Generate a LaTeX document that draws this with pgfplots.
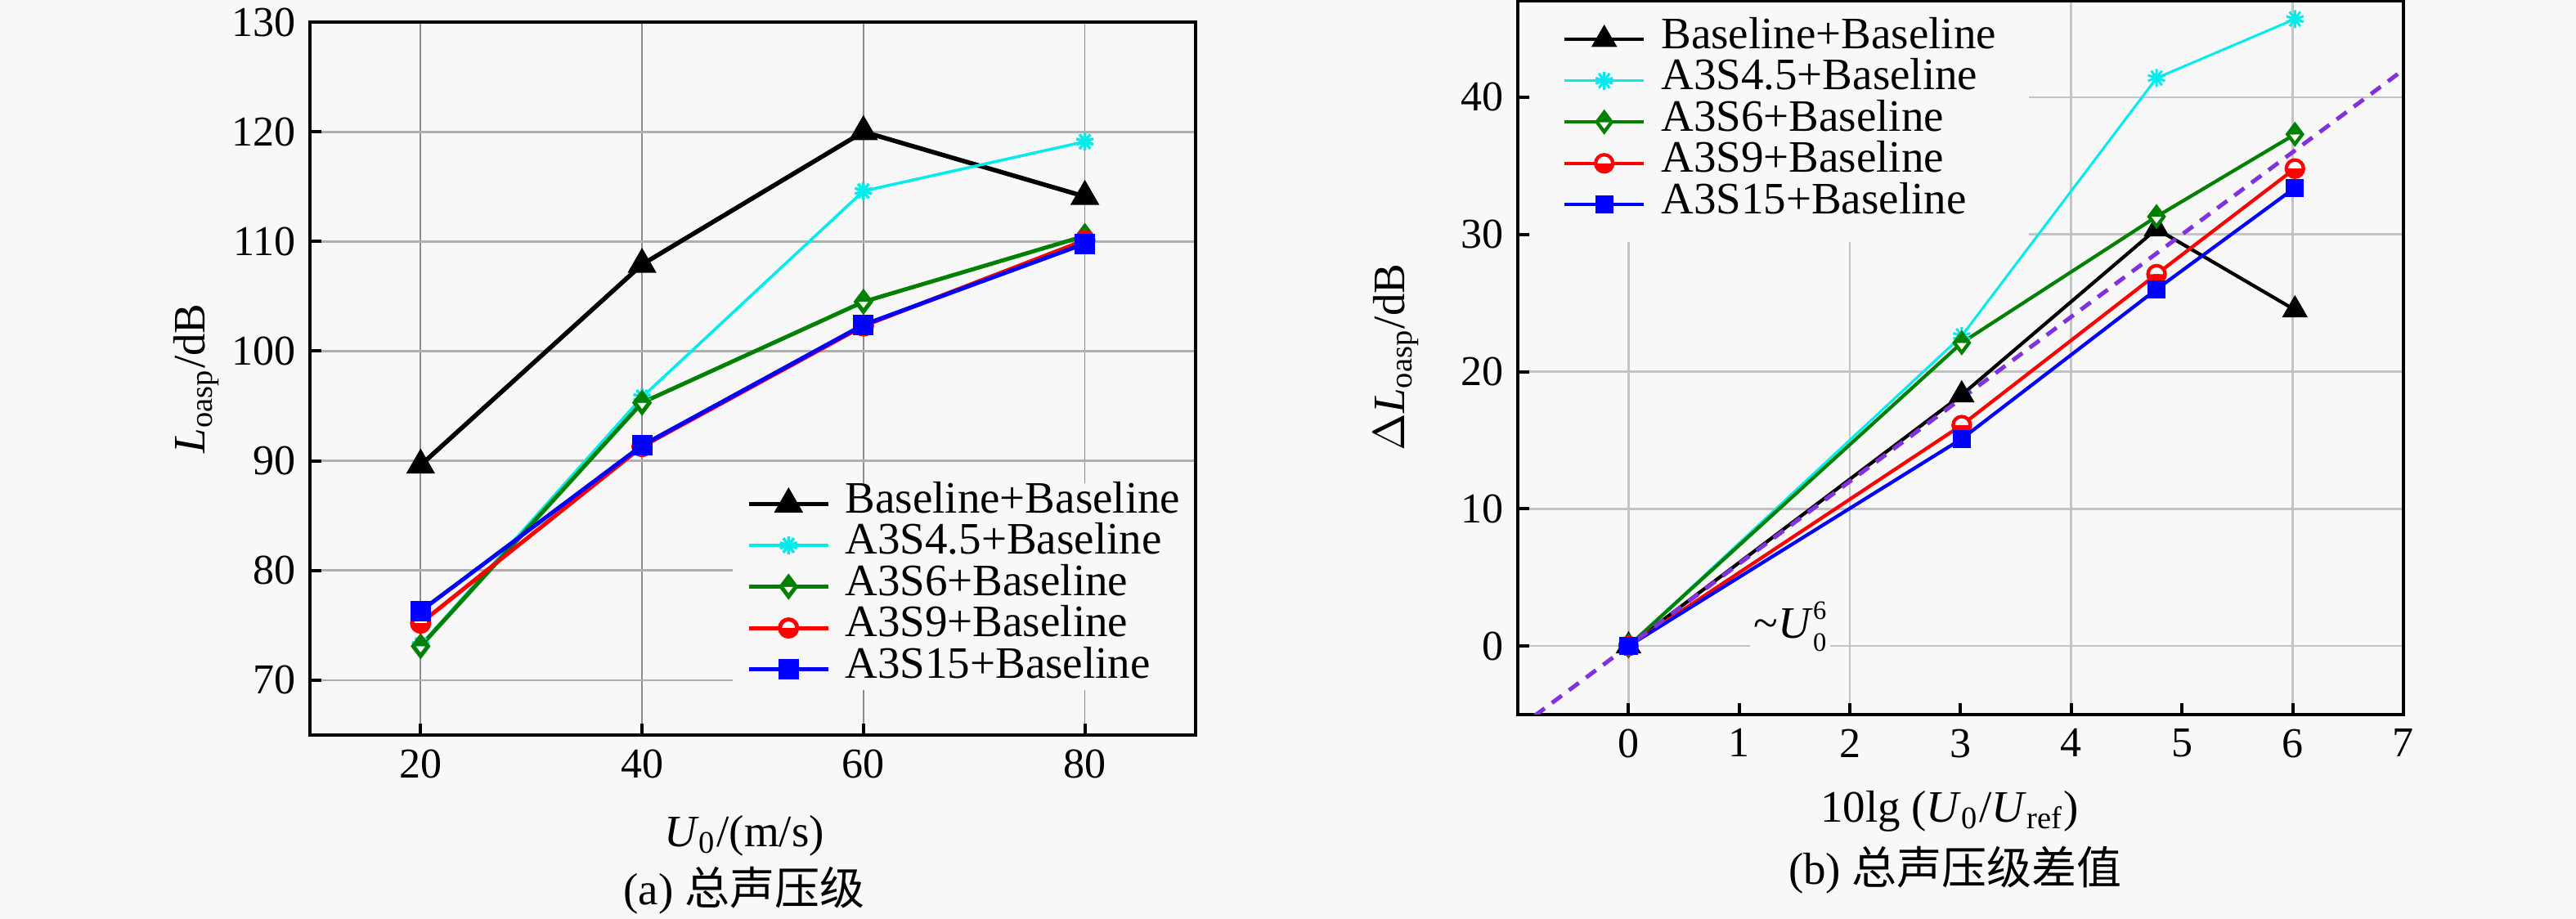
\documentclass[border=0pt]{standalone}
\usepackage{fontspec}
\setmainfont{Liberation Serif}
\newfontfamily\cjk{Noto Sans CJK SC}
\usepackage{pgfplots}
\pgfplotsset{compat=1.18}
\usetikzlibrary{plotmarks}

\definecolor{bg}{RGB}{248,248,248}
\definecolor{cy}{RGB}{0,235,235}
\definecolor{gr}{RGB}{0,128,0}
\definecolor{rd}{RGB}{255,0,0}
\definecolor{bl}{RGB}{0,0,255}
\definecolor{pu}{RGB}{130,50,220}
\definecolor{gridH}{RGB}{175,175,175}
\definecolor{gridV}{RGB}{140,140,140}
\definecolor{gridR}{RGB}{195,195,195}

\pgfplotsset{
  common/.style={
    scale only axis,
    anchor=south west,
    tick align=inside,
    tick pos=left,
    major tick length=2.8pt,
    minor tick length=0pt,
    axis line style={line width=0.8pt},
    every tick/.style={black, line width=0.8pt},
    tick label style={font=\fontsize{10.4}{12}\selectfont},
    /pgf/number format/assume math mode=true,
    legend cell align=left,
    legend image code/.code={\draw[mark repeat=2,mark phase=2] plot coordinates {(0pt,0pt)(9.7pt,0pt)(19.4pt,0pt)};},
  },
  sBase/.style={black, line width=1.1pt, mark=triangle*, mark size=3pt, mark options={solid, fill=black}},
  sFour/.style={cy, line width=0.7pt, mark=10-pointed star, mark size=2.2pt, mark options={solid, fill=cy}},
  sSix/.style={gr, line width=1pt, mark=halfdiamond*, mark size=2.4pt, mark options={solid, fill=white, draw=gr, mark color=gr}},
  sNine/.style={rd, line width=1pt, mark=halfcircle*, mark size=2.1pt, mark options={solid, fill=white, draw=rd, mark color=rd}},
  sFift/.style={bl, line width=1pt, mark=square*, mark size=2pt, mark options={solid, fill=bl}},
}

\begin{document}
\begin{tikzpicture}[x=1pt,y=1pt]
\fill[bg] (0,0) rectangle (630,224.8);
\useasboundingbox (0,0) rectangle (630,224.8);

% ---------- (a) ----------
\begin{axis}[common,
  at={(75.8pt,45pt)}, width=216.6pt, height=174.4pt,
  xmin=10, xmax=90, ymin=65, ymax=130,
  xtick={20,40,60,80}, ytick={70,80,...,130},
  minor xtick={20,40,60,80},
  xmajorgrids=false, ymajorgrids=true, xminorgrids=true,
  major grid style={gridH, line width=0.55pt},
  minor grid style={gridV, line width=0.35pt},
  legend style={at={(0.4765,0.354)}, anchor=north west, fill=bg, draw=none,
    inner xsep=3.4pt, inner ysep=0pt, row sep=0pt, column sep=3.6pt,
    font=\fontsize{11}{13}\selectfont,
    nodes={inner sep=0pt, text height=7.2pt, text depth=2.9pt}},
]
\addplot[sBase] coordinates {(20,89.6)(40,107.9)(60,120.0)(80,114.1)};
\addlegendentry{Baseline+Baseline}
\addplot[sFour] coordinates {(20,73.2)(40,95.8)(60,114.6)(80,119.1)};
\addlegendentry{A3S4.5+Baseline}
\addplot[sSix] coordinates {(20,73.1)(40,95.3)(60,104.5)(80,110.5)};
\addlegendentry{A3S6+Baseline}
\addplot[sNine] coordinates {(20,75.2)(40,91.3)(60,102.3)(80,110.1)};
\addlegendentry{A3S9+Baseline}
\addplot[sFift] coordinates {(20,76.3)(40,91.4)(60,102.4)(80,109.8)};
\addlegendentry{A3S15+Baseline}
\end{axis}

% ---------- (b) ----------
\begin{axis}[common,
  at={(371.2pt,50pt)}, width=216.6pt, height=174.5pt,
  xmin=-1, xmax=7, ymin=-5, ymax=47,
  xtick={0,1,...,7}, ytick={0,10,...,40},
  minor xtick={0,2,4,6},
  xmajorgrids=false, ymajorgrids=true, xminorgrids=true,
  major grid style={gridR, line width=0.55pt},
  minor grid style={gridR, line width=0.55pt},
  legend style={at={(0.013,0.9994)}, anchor=north west, fill=bg, draw=none,
    inner xsep=8pt, inner ysep=4pt, row sep=0pt, column sep=3.8pt,
    font=\fontsize{11}{13}\selectfont,
    nodes={inner sep=0pt, text height=7.2pt, text depth=2.9pt}},
]
\addplot[sBase, line width=0.85pt, mark size=2.8pt] coordinates {(0,0)(3.01,18.3)(4.77,30.4)(6.02,24.5)};
\addlegendentry{Baseline+Baseline}
\addplot[sFour, line width=0.6pt] coordinates {(0,0)(3.01,22.6)(4.77,41.4)(6.02,45.7)};
\addlegendentry{A3S4.5+Baseline}
\addplot[sSix, line width=0.85pt] coordinates {(0,0)(3.01,22.1)(4.77,31.3)(6.02,37.3)};
\addlegendentry{A3S6+Baseline}
\addplot[sNine, line width=0.85pt] coordinates {(0,0)(3.01,16.1)(4.77,27.1)(6.02,34.8)};
\addlegendentry{A3S9+Baseline}
\addplot[sFift, line width=0.85pt, mark size=1.8pt] coordinates {(0,0)(3.01,15.1)(4.77,26.0)(6.02,33.4)};
\addlegendentry{A3S15+Baseline}
\addplot[pu, line width=1pt, dash pattern=on 3pt off 2.2pt, forget plot] coordinates {(-1,-6)(7,42)};
\node[fill=bg, inner sep=1pt, font=\fontsize{11}{13}\selectfont] at (axis cs:1.46,1.4)
  {\textasciitilde\textit{U}\rlap{\raisebox{4.6pt}{\fontsize{6.5}{7}\selectfont 6}}\raisebox{-3.2pt}{\fontsize{6.5}{7}\selectfont 0}};
\end{axis}

% ---------- labels ----------
\node[rotate=90, font=\fontsize{11}{13}\selectfont] at (48,132.2) {\textit{L}\textsubscript{oasp}/dB};
\node[font=\fontsize{11}{13}\selectfont] at (182,20.3) {\textit{U}\textsubscript{0}/(m/s)};
\node[font=\fontsize{11}{13}\selectfont] at (182,7.0) {(a) {\cjk 总声压级}};
\node[rotate=90, font=\fontsize{11}{13}\selectfont] at (341.4,137.4) {$\Delta$\textit{L}\textsubscript{oasp}/dB};
\node[font=\fontsize{11}{13}\selectfont] at (476.8,26.3) {10lg (\textit{U}\textsubscript{0}/\textit{U}\textsubscript{ref})};
\node[font=\fontsize{11}{13}\selectfont] at (478.2,12.0) {(b) {\cjk 总声压级差值}};
\end{tikzpicture}
\end{document}
